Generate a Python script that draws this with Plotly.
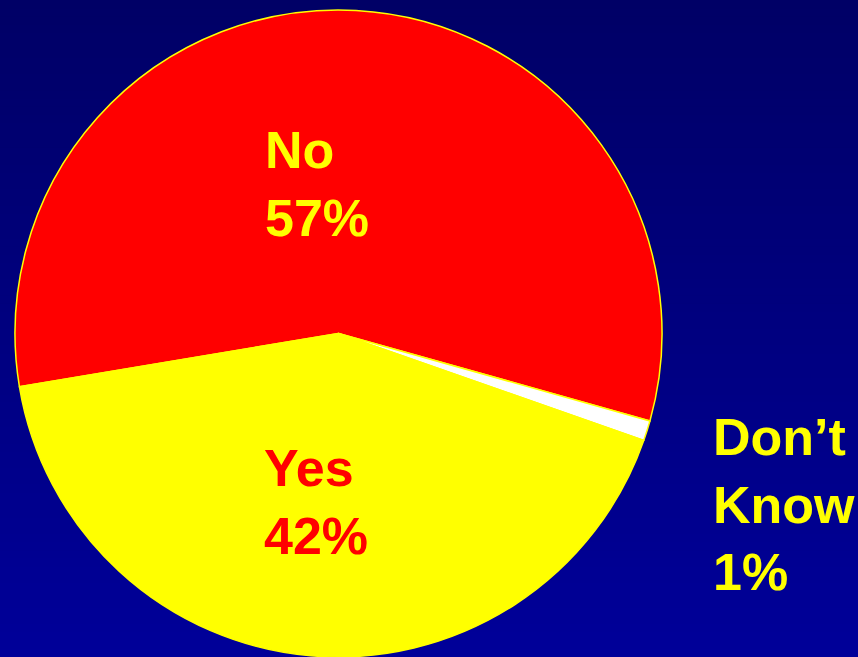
import plotly.graph_objects as go

# Data
labels = ["No", "Don’t Know", "Yes"]
values = [57, 1, 42]
slice_colors = ["#FF0000", "#FFFFFF", "#FFFF00"]
label_colors = ["#FFFF00", "#FFFF00", "#FF0000"]

W, H = 858, 657

fig = go.Figure()
fig.add_trace(go.Pie(
    labels=labels,
    values=values,
    sort=False,
    direction="clockwise",
    rotation=-99.5,
    marker=dict(colors=slice_colors, line=dict(color="#FFFF00", width=1.5)),
    textinfo="none",
    hoverinfo="skip",
    showlegend=False,
    domain=dict(x=[15 / W, 662 / W], y=[0.0, 0.985]),
))

# vertical background gradient
top = (0x00, 0x00, 0x66)
bot = (0x00, 0x00, 0x99)
n = 80
shapes = []
for i in range(n):
    t = i / (n - 1)
    c = tuple(round(bot[k] + (top[k] - bot[k]) * t) for k in range(3))
    shapes.append(dict(
        type="rect", xref="paper", yref="paper",
        x0=0, x1=1, y0=i / n, y1=(i + 1) / n + 0.002,
        fillcolor="rgb(%d,%d,%d)" % c, line=dict(width=0), layer="below",
    ))

label_pos = [(263 / W, 0.720), (711 / W, 0.232), (262 / W, 0.236)]
annotations = []
for lab, val, col, (ax, ay) in zip(labels, values, label_colors, label_pos):
    txt = "<b>" + lab.replace(" ", "<br>") + "<br>" + str(val) + "%</b>"
    annotations.append(dict(
        text=txt, x=ax, y=ay, xref="paper", yref="paper",
        xanchor="left", yanchor="middle", align="left", showarrow=False,
        font=dict(family="Liberation Sans, Arial, sans-serif", size=52, color=col),
    ))

fig.update_layout(
    width=W, height=H,
    margin=dict(l=0, r=0, t=0, b=0),
    paper_bgcolor="#00007F",
    plot_bgcolor="#00007F",
    shapes=shapes,
    annotations=annotations,
)

fig.write_html(
    "out.html",
    config={"displayModeBar": False},
    post_script="document.body.style.margin='0';document.body.style.overflow='hidden';",
)
